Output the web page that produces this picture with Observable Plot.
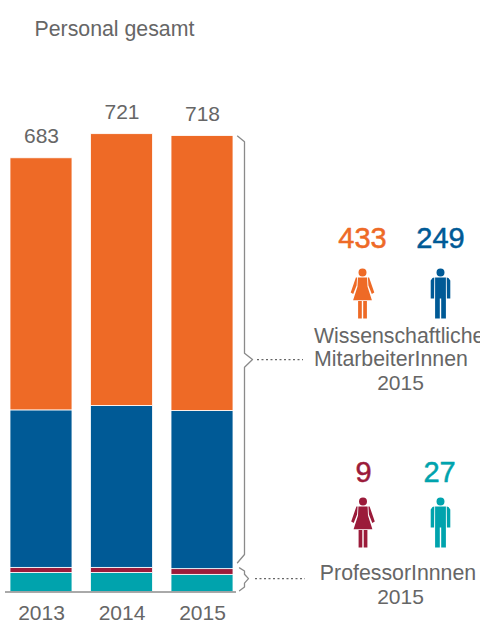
<!DOCTYPE html>
<html lang="de">
<head>
<meta charset="utf-8">
<style>html,body{margin:0;padding:0;background:#fff;overflow:hidden}</style>
<script src="https://cdn.jsdelivr.net/npm/d3@7"></script>
<script src="https://cdn.jsdelivr.net/npm/@observablehq/plot@0.6"></script>
</head>
<body>
<script>
const years = ["2013", "2014", "2015"];
const groups = ["ProfessorInnen weiblich+männlich", "Professorinnen", "Wiss. männlich", "Wiss. weiblich"];
const teal = [30, 30, 27];
const red = [8, 8, 9];
const blue = [248, 255, 249];
const orange = [397, 428, 433];
const totals = [683, 721, 718];
const groupColors = ["#00a3ad", "#9b1b3a", "#005a96", "#ee6a26"];
const grey = "#666666";

const series = [teal, red, blue, orange];
const table = years.flatMap((year, i) => series.map((s, j) => ({year, group: groups[j], value: s[i]})));
const totalRows = years.map((year, i) => ({year, total: totals[i]}));

function woman(c) {
  c.moveTo(4, -21); c.arc(0, -21, 4, 0, 2 * Math.PI); c.closePath();
  const poly = pts => { pts.forEach((p, i) => i ? c.lineTo(p[0], p[1]) : c.moveTo(p[0], p[1])); c.closePath(); };
  poly([[-4.6,-16],[4.6,-16],[5,-7],[9.4,6.7],[-9.4,6.7],[-5,-7]]);
  poly([[5.4,-16],[6.6,-16],[11.8,-1],[9.3,0.6],[5.9,-8]]);
  poly([[-5.4,-16],[-6.6,-16],[-11.8,-1],[-9.3,0.6],[-5.9,-8]]);
  poly([[0.7,7.4],[4.4,7.4],[4.4,25],[0.7,25]]);
  poly([[-0.7,7.4],[-4.4,7.4],[-4.4,25],[-0.7,25]]);
}
function man(c) {
  c.moveTo(4, -21); c.arc(0, -21, 4, 0, 2 * Math.PI); c.closePath();
  const poly = pts => { pts.forEach((p, i) => i ? c.lineTo(p[0], p[1]) : c.moveTo(p[0], p[1])); c.closePath(); };
  poly([[-5.4,-16],[5.4,-16],[5.4,25],[0.7,25],[0.7,5],[-0.7,5],[-0.7,25],[-5.4,25]]);
  poly([[6.2,-16],[8,-15.5],[9.8,-13],[9.8,5],[6.4,5]]);
  poly([[-6.2,-16],[-8,-15.5],[-9.8,-13],[-9.8,5],[-6.4,5]]);
}
const symbolOf = draw => ({draw});

const label = (text, dx, dy, size, fill, anchor = "middle") =>
  Plot.text([text], {text: d => d, frameAnchor: "top-left", dx, dy, fontSize: size, fill, textAnchor: anchor, lineAnchor: "bottom"});
const number = (text, dx, dy, fill) =>
  Plot.text([text], {text: d => d, frameAnchor: "top-left", dx, dy, fontSize: 29, fill, stroke: fill, strokeWidth: 0.5, textAnchor: "middle", lineAnchor: "bottom"});
const icon = (draw, dx, dy, fill) =>
  Plot.dot([0], {frameAnchor: "top-left", dx, dy, symbol: symbolOf(draw), r: 5, fill});
// Unscaled x: Plot still shifts the line by half the band width of the x scale, hence the dx.
const brace = (xs, ys) =>
  Plot.line(xs.map((x, i) => i), {x: {value: i => xs[i], scale: null}, y: i => ys[i], dx: -31, stroke: "#8a8a8a", strokeWidth: 1.3});

const chart = Plot.plot({
  width: 480,
  height: 620,
  marginTop: 0,
  marginLeft: 0,
  marginRight: 0,
  marginBottom: 28.5,
  style: {fontFamily: "'Liberation Sans', Arial, sans-serif", background: "#fff"},
  x: {domain: years, range: [10, 233], paddingInner: 0.23, paddingOuter: 0, round: false, label: null},
  y: {domain: [0, 931.5], axis: null},
  color: {domain: groups, range: groupColors},
  marks: [
    Plot.barY(table, {x: "year", y: "value", fill: "group", order: null, stroke: "#fff", strokeWidth: 0.8}),
    Plot.ruleY([0], {insetLeft: 5, insetRight: 244, stroke: "#555", strokeWidth: 1}),
    Plot.axisX({tickSize: 0, tickPadding: 13, fontSize: 21, fill: grey, label: null}),
    Plot.text(totalRows, {x: "year", y: "total", text: d => String(d.total), dy: -15, fontSize: 21, fill: grey, lineAnchor: "bottom"}),
    label("Personal gesamt", 34, 35.5, 21.3, grey, "start"),

    brace([237, 244, 244, 252, 244, 244, 237], [718, 709, 376, 366, 354, 59, 46]),
    brace([239, 244, 244, 248, 244, 244, 239], [38, 33, 28, 21, 14, 8, 2]),
    Plot.ruleY([366], {insetLeft: 257, insetRight: 177, stroke: "#666", strokeWidth: 1.2, strokeDasharray: "2 2.5"}),
    Plot.ruleY([21], {insetLeft: 255, insetRight: 175, stroke: "#666", strokeWidth: 1.2, strokeDasharray: "2 2.5"}),

    number("433", 362, 247, groupColors[3]),
    number("249", 440, 247, groupColors[2]),
    icon(woman, 362, 293, groupColors[3]),
    icon(man, 440, 293, groupColors[2]),
    label("Wissenschaftliche", 313.5, 342, 21.3, grey, "start"),
    label("MitarbeiterInnen", 313.5, 365, 21.3, grey, "start"),
    label("2015", 400, 389, 21, grey),

    number("9", 363, 481, groupColors[1]),
    number("27", 439, 481, groupColors[0]),
    icon(woman, 362.5, 522, groupColors[1]),
    icon(man, 440, 522, groupColors[0]),
    label("ProfessorInnnen", 397.5, 579, 21.3, grey),
    label("2015", 400, 603, 21, grey)
  ]
});
document.body.append(chart);
</script>
</body>
</html>
